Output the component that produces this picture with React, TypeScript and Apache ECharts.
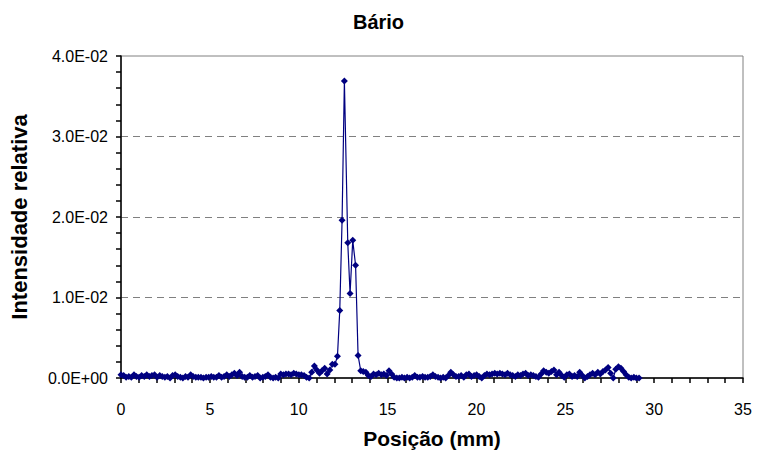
import React, { useEffect, useRef } from "react";
import * as echarts from "echarts";

// Sample positions along the scan (mm)
const positions: number[] = [
  0.00, 0.15, 0.29, 0.44, 0.58, 0.73, 0.87, 1.02, 1.16, 1.31,
  1.45, 1.60, 1.74, 1.89, 2.03, 2.18, 2.32, 2.47, 2.61, 2.76,
  2.90, 3.05, 3.19, 3.34, 3.48, 3.63, 3.77, 3.92, 4.06, 4.21,
  4.35, 4.50, 4.64, 4.79, 4.93, 5.08, 5.22, 5.37, 5.51, 5.66,
  5.80, 5.95, 6.09, 6.24, 6.38, 6.53, 6.67, 6.82, 6.96, 7.11,
  7.25, 7.40, 7.54, 7.69, 7.83, 7.98, 8.12, 8.27, 8.41, 8.56,
  8.70, 8.85, 8.99, 9.14, 9.28, 9.43, 9.57, 9.72, 9.86, 10.01,
  10.15, 10.30, 10.44, 10.59, 10.73, 10.88, 11.02, 11.17, 11.31, 11.46,
  11.60, 11.75, 11.89, 12.04, 12.18, 12.31, 12.44, 12.57, 12.76, 12.89,
  13.04, 13.20, 13.34, 13.49, 13.63, 13.78, 13.92, 14.07, 14.21, 14.36,
  14.50, 14.65, 14.79, 14.94, 15.08, 15.23, 15.37, 15.52, 15.66, 15.81,
  15.95, 16.10, 16.24, 16.39, 16.53, 16.68, 16.82, 16.97, 17.11, 17.26,
  17.40, 17.55, 17.69, 17.84, 17.98, 18.13, 18.27, 18.42, 18.56, 18.71,
  18.85, 19.00, 19.14, 19.29, 19.43, 19.58, 19.72, 19.87, 20.01, 20.16,
  20.30, 20.45, 20.59, 20.74, 20.88, 21.03, 21.17, 21.32, 21.46, 21.61,
  21.75, 21.90, 22.04, 22.19, 22.33, 22.48, 22.62, 22.77, 22.91, 23.06,
  23.20, 23.35, 23.49, 23.64, 23.78, 23.93, 24.07, 24.22, 24.36, 24.51,
  24.65, 24.80, 24.94, 25.09, 25.23, 25.38, 25.52, 25.67, 25.81, 25.96,
  26.10, 26.25, 26.39, 26.54, 26.68, 26.83, 26.97, 27.12, 27.26, 27.41,
  27.55, 27.70, 27.84, 27.99, 28.13, 28.28, 28.42, 28.57, 28.71, 28.86,
  29.00, 29.15,
];

// Relative intensity (Bário)
const intensity: number[] = [
  0.0004, 0.0003, 0.0001, 0.0002, 0.0001, 0.0004, 0.0002, 0.0001, 0.0003, 0.0002,
  0.0004, 0.0002, 0.0003, 0.0004, 0.0001, 0.0003, 0.0002, 0.0001, 0.0002, 0.0000,
  0.0003, 0.0004, 0.0002, 0.0001, 0.0000, 0.0002, 0.0001, 0.0004, 0.0002, 0.0001,
  0.0001, 0.0001, 0.0000, 0.0001, 0.0001, 0.0002, 0.0001, 0.0001, 0.0003, 0.0001,
  0.0002, 0.0004, 0.0002, 0.0004, 0.0006, 0.0003, 0.0007, 0.0002, 0.0001, 0.0001,
  0.0003, 0.0001, 0.0002, 0.0003, 0.0000, 0.0001, 0.0002, 0.0004, 0.0001, 0.0000,
  0.0001, 0.0000, 0.0005, 0.0004, 0.0005, 0.0005, 0.0004, 0.0006, 0.0005, 0.0004,
  0.0004, 0.0003, 0.0001, 0.0000, 0.0007, 0.0015, 0.0010, 0.0006, 0.0009, 0.0012,
  0.0005, 0.0010, 0.0017, 0.0017, 0.0027, 0.0084, 0.0196, 0.0369, 0.0168, 0.0105,
  0.0171, 0.0140, 0.0028, 0.0009, 0.0008, 0.0007, 0.0003, 0.0002, 0.0005, 0.0004,
  0.0006, 0.0004, 0.0005, 0.0003, 0.0009, 0.0005, 0.0001, 0.0000, 0.0000, 0.0001,
  0.0000, 0.0001, 0.0000, 0.0001, 0.0003, 0.0001, 0.0001, 0.0002, 0.0001, 0.0001,
  0.0002, 0.0004, 0.0002, 0.0001, 0.0000, 0.0001, 0.0000, 0.0003, 0.0007, 0.0004,
  0.0002, 0.0002, 0.0003, 0.0001, 0.0004, 0.0005, 0.0002, 0.0003, 0.0004, 0.0002,
  0.0000, 0.0003, 0.0005, 0.0004, 0.0005, 0.0006, 0.0005, 0.0006, 0.0005, 0.0004,
  0.0006, 0.0004, 0.0003, 0.0002, 0.0004, 0.0003, 0.0005, 0.0006, 0.0003, 0.0004,
  0.0003, 0.0002, 0.0001, 0.0005, 0.0009, 0.0007, 0.0006, 0.0008, 0.0010, 0.0004,
  0.0007, 0.0003, 0.0001, 0.0004, 0.0005, 0.0002, 0.0003, 0.0002, 0.0007, 0.0003,
  0.0000, 0.0002, 0.0004, 0.0006, 0.0004, 0.0007, 0.0005, 0.0008, 0.0010, 0.0013,
  0.0006, 0.0000, 0.0011, 0.0014, 0.0012, 0.0008, 0.0004, 0.0001, 0.0000, 0.0001,
  0.0000, 0.0000,
];

const title = "Bário";
const xName = "Posição (mm)";
const yName = "Intensidade relativa";

const FONT = "'Liberation Sans', Arial, Helvetica, sans-serif";

function fmtExp(v: number): string {
  if (v === 0) return "0.0E+00";
  const e = Math.floor(Math.log10(Math.abs(v)) + 1e-9);
  const m = v / Math.pow(10, e);
  return m.toFixed(1) + "E" + (e < 0 ? "-" : "+") + String(Math.abs(e)).padStart(2, "0");
}

export default function App() {
  const ref = useRef<HTMLDivElement>(null);
  useEffect(() => {
    if (!ref.current) return;
    const chart = echarts.init(ref.current, undefined, { renderer: "svg" });
    chart.setOption({
      animation: false,
      backgroundColor: "#ffffff",
      title: {
        text: title,
        left: "center",
        top: 7,
        textStyle: { fontFamily: FONT, fontWeight: "bold", fontSize: 20, color: "#000" },
      },
      grid: {
        left: 121,
        right: 14,
        top: 56,
        bottom: 79,
        containLabel: false,
        outerBoundsMode: "none",
        show: true,
        borderColor: "#808080",
        borderWidth: 1,
        backgroundColor: "transparent",
      },
      xAxis: {
        type: "value",
        min: 0,
        max: 35,
        interval: 5,
        name: xName,
        nameLocation: "middle",
        nameGap: 50,
        nameTextStyle: { fontFamily: FONT, fontWeight: "bold", fontSize: 21, color: "#000" },
        axisLine: { show: true, onZero: false, lineStyle: { color: "#000", width: 1.5 } },
        axisTick: { show: true, length: 5, lineStyle: { color: "#000", width: 1.5 } },
        minorTick: { show: true, splitNumber: 5, length: 5, lineStyle: { color: "#000", width: 1.5 } },
        axisLabel: { fontFamily: FONT, fontSize: 16, color: "#000", margin: 23 },
        splitLine: { show: false },
      },
      yAxis: {
        type: "value",
        min: 0,
        max: 0.04,
        interval: 0.01,
        name: yName,
        nameLocation: "middle",
        nameGap: 91,
        nameTextStyle: { fontFamily: FONT, fontWeight: "bold", fontSize: 22, color: "#000" },
        axisLine: { show: true, onZero: false, lineStyle: { color: "#000", width: 1.5 } },
        axisTick: { show: true, length: 5, lineStyle: { color: "#000", width: 1.5 } },
        minorTick: { show: true, splitNumber: 5, length: 5, lineStyle: { color: "#000", width: 1.5 } },
        axisLabel: { fontFamily: FONT, fontSize: 16, color: "#000", margin: 13, formatter: (v: number) => fmtExp(v) },
        splitLine: {
          show: true,
          showMinLine: false,
          showMaxLine: false,
          lineStyle: { color: "#808080", width: 1, type: [7, 5] },
        },
      },
      series: [
        {
          type: "line",
          data: positions.map((x, i) => [x, intensity[i]]),
          symbol: "diamond",
          symbolSize: 7,
          itemStyle: { color: "#000080" },
          lineStyle: { color: "#000080", width: 1.2 },
        },
      ],
    });
    return () => chart.dispose();
  }, []);
  return (
    <div
      ref={ref}
      style={{ position: "fixed", left: 0, top: 0, width: 757, height: 457, background: "#fff" }}
    />
  );
}
